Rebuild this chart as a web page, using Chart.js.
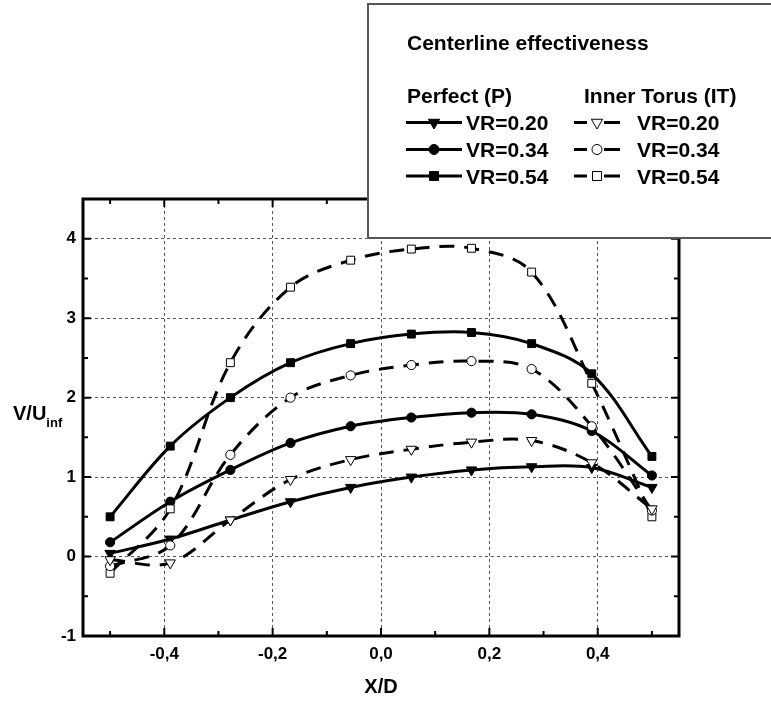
<!DOCTYPE html>
<html>
<head>
<meta charset="utf-8">
<script src="https://cdn.jsdelivr.net/npm/chart.js@4/dist/chart.umd.min.js"></script>
<style>
  html, body { margin: 0; padding: 0; background: #fff; }
  canvas { display: block; }
</style>
</head>
<body>
<canvas id="chart" width="771" height="702"></canvas>
<script>
// X/D positions of the measurement points
const xPositions = [-0.5, -0.389, -0.278, -0.167, -0.056, 0.056, 0.167, 0.278, 0.389, 0.5];

// Perfect (P)
const perfect20 = [0.04, 0.22, 0.46, 0.69, 0.87, 1.00, 1.09, 1.13, 1.12, 0.87];
const perfect34 = [0.18, 0.69, 1.09, 1.43, 1.64, 1.75, 1.81, 1.79, 1.58, 1.02];
const perfect54 = [0.50, 1.39, 2.00, 2.44, 2.68, 2.80, 2.82, 2.68, 2.30, 1.26];

// Inner Torus (IT)
const torus20 = [-0.04, -0.08, 0.46, 0.97, 1.22, 1.35, 1.44, 1.46, 1.18, 0.60];
const torus34 = [-0.12, 0.14, 1.28, 2.00, 2.28, 2.41, 2.46, 2.36, 1.64, 0.58];
const torus54 = [-0.21, 0.60, 2.44, 3.39, 3.73, 3.87, 3.88, 3.58, 2.18, 0.50];

const seriesLabels = ['VR=0.20', 'VR=0.34', 'VR=0.54'];

const xTickValues = [-0.4, -0.2, 0, 0.2, 0.4];
const xTickLabels = ['-0,4', '-0,2', '0,0', '0,2', '0,4'];
const xMinorTicks = [-0.5, -0.3, -0.1, 0.1, 0.3, 0.5];
const yTickValues = [-1, 0, 1, 2, 3, 4];
const yTickLabels = ['-1', '0', '1', '2', '3', '4'];
const yMinorTicks = [-0.5, 0.5, 1.5, 2.5, 3.5];

const FONT = "'Liberation Sans', Arial, Helvetica, sans-serif";
Chart.defaults.font.family = FONT;
Chart.defaults.color = '#000';

function points(values) {
    return values.map((v, i) => ({ x: xPositions[i], y: v }));
}

function makeDataset(label, values, style, filled, dashed) {
    const ds = {
        label: label,
        data: points(values),
        borderColor: '#000',
        borderWidth: 3,
        tension: 0.35,
        pointStyle: style,
        pointRadius: style === 'rect' ? 5.6 : (style === 'triangle' ? 6 : 4.6),
        pointRotation: style === 'triangle' ? 180 : 0,
        pointBackgroundColor: filled ? '#000' : '#fff',
        pointBorderColor: '#000',
        pointBorderWidth: filled ? 1 : 1,
        pointHoverRadius: 0,
    };
    if (dashed) ds.borderDash = [15, 10];
    return ds;
}

// hollow markers drawn on top
const datasets = [
    makeDataset('IT ' + seriesLabels[0], torus20, 'triangle', false, true),
    makeDataset('IT ' + seriesLabels[1], torus34, 'circle', false, true),
    makeDataset('IT ' + seriesLabels[2], torus54, 'rect', false, true),
    makeDataset('P ' + seriesLabels[0], perfect20, 'triangle', true, false),
    makeDataset('P ' + seriesLabels[1], perfect34, 'circle', true, false),
    makeDataset('P ' + seriesLabels[2], perfect54, 'rect', true, false),
];

function marker(ctx, style, x, y, filled) {
    ctx.save();
    ctx.beginPath();
    if (style === 'triangle') {
        const r = 6.5;
        ctx.moveTo(x - r * 0.866, y - r * 0.5);
        ctx.lineTo(x + r * 0.866, y - r * 0.5);
        ctx.lineTo(x, y + r);
        ctx.closePath();
    } else if (style === 'circle') {
        ctx.arc(x, y, 5, 0, Math.PI * 2);
    } else {
        ctx.rect(x - 4.5, y - 4.5, 9, 9);
    }
    ctx.fillStyle = filled ? '#000' : '#fff';
    ctx.fill();
    ctx.lineWidth = 1;
    ctx.strokeStyle = '#000';
    ctx.setLineDash([]);
    ctx.stroke();
    ctx.restore();
}

const framePlugin = {
    id: 'frame',
    afterDraw(chart) {
        const ctx = chart.ctx;
        const a = chart.chartArea;
        const xs = chart.scales.x;
        const ys = chart.scales.y;
        ctx.save();
        ctx.strokeStyle = '#000';
        ctx.setLineDash([]);
        ctx.lineWidth = 2;
        ctx.beginPath();
        const tick = (px, len, vertical) => {
            if (vertical) {
                ctx.moveTo(px, a.bottom); ctx.lineTo(px, a.bottom - len);
                ctx.moveTo(px, a.top); ctx.lineTo(px, a.top + len);
            } else {
                ctx.moveTo(a.left, px); ctx.lineTo(a.left + len, px);
                ctx.moveTo(a.right, px); ctx.lineTo(a.right - len, px);
            }
        };
        xTickValues.forEach(v => tick(xs.getPixelForValue(v), 8, true));
        xMinorTicks.forEach(v => tick(xs.getPixelForValue(v), 5, true));
        yTickValues.forEach(v => tick(ys.getPixelForValue(v), 8, false));
        yMinorTicks.forEach(v => tick(ys.getPixelForValue(v), 5, false));
        ctx.stroke();
        ctx.lineWidth = 3;
        ctx.strokeRect(a.left, a.top, a.right - a.left, a.bottom - a.top);

        // y title with subscript
        ctx.fillStyle = '#000';
        ctx.textBaseline = 'alphabetic';
        ctx.textAlign = 'left';
        ctx.font = 'bold 20px ' + FONT;
        ctx.fillText('V/U', 13, 420);
        const w = ctx.measureText('V/U').width;
        ctx.font = 'bold 13px ' + FONT;
        ctx.fillText('inf', 13 + w, 427);

        // legend box
        ctx.fillStyle = '#fff';
        ctx.fillRect(367, 4, 420, 234);
        ctx.strokeStyle = '#555';
        ctx.lineWidth = 2;
        ctx.strokeRect(368, 4, 420, 234);

        ctx.fillStyle = '#000';
        ctx.font = 'bold 21px ' + FONT;
        ctx.fillText('Centerline effectiveness', 407, 50);
        ctx.fillText('Perfect (P)', 407, 103);
        ctx.fillText('Inner Torus (IT)', 584, 103);

        const styles = ['triangle', 'circle', 'rect'];
        const rows = [122.5, 149.5, 176];
        rows.forEach((ry, i) => {
            ctx.strokeStyle = '#000';
            ctx.lineWidth = 3;
            ctx.setLineDash([]);
            ctx.beginPath();
            ctx.moveTo(406, ry); ctx.lineTo(462, ry);
            ctx.moveTo(574, ry); ctx.lineTo(587, ry);
            ctx.moveTo(604, ry); ctx.lineTo(620, ry);
            ctx.stroke();
            marker(ctx, styles[i], 434, ry, true);
            marker(ctx, styles[i], 597, ry, false);
            ctx.fillStyle = '#000';
            ctx.font = 'bold 21px ' + FONT;
            ctx.fillText(seriesLabels[i], 466, ry + 7.5);
            ctx.fillText(seriesLabels[i], 637, ry + 7.5);
        });
        ctx.restore();
    }
};

const options = {
    responsive: false,
    animation: false,
    devicePixelRatio: 1,
    layout: { padding: { top: 199, right: 92, left: 0, bottom: 0 } },
    plugins: {
        legend: { display: false },
        tooltip: { enabled: false },
    },
    scales: {
        x: {
            type: 'linear',
            min: -0.55,
            max: 0.55,
            afterBuildTicks(scale) {
                scale.ticks = xTickValues.map(v => ({ value: v }));
            },
            afterFit(scale) { scale.height = 66; },
            ticks: {
                padding: 8,
                font: { size: 17, weight: 'bold' },
                callback: (v, i) => xTickLabels[i],
            },
            grid: { color: '#555', lineWidth: 1, drawTicks: false },
            border: { display: false, dash: [3, 3] },
            title: {
                display: true,
                text: 'X/D',
                font: { size: 20, weight: 'bold' },
                padding: { top: 0, bottom: 3 },
            },
        },
        y: {
            type: 'linear',
            min: -1,
            max: 4.5,
            afterBuildTicks(scale) {
                scale.ticks = yTickValues.map(v => ({ value: v }));
            },
            afterFit(scale) { scale.width = 83; },
            ticks: {
                padding: 7,
                font: { size: 17, weight: 'bold' },
                callback: (v, i) => yTickLabels[i],
            },
            grid: { color: '#555', lineWidth: 1, drawTicks: false },
            border: { display: false, dash: [3, 3] },
        },
    },
};

new Chart(document.getElementById('chart').getContext('2d'), {
    type: 'line',
    data: { datasets: datasets },
    options: options,
    plugins: [framePlugin],
});
</script>
</body>
</html>
